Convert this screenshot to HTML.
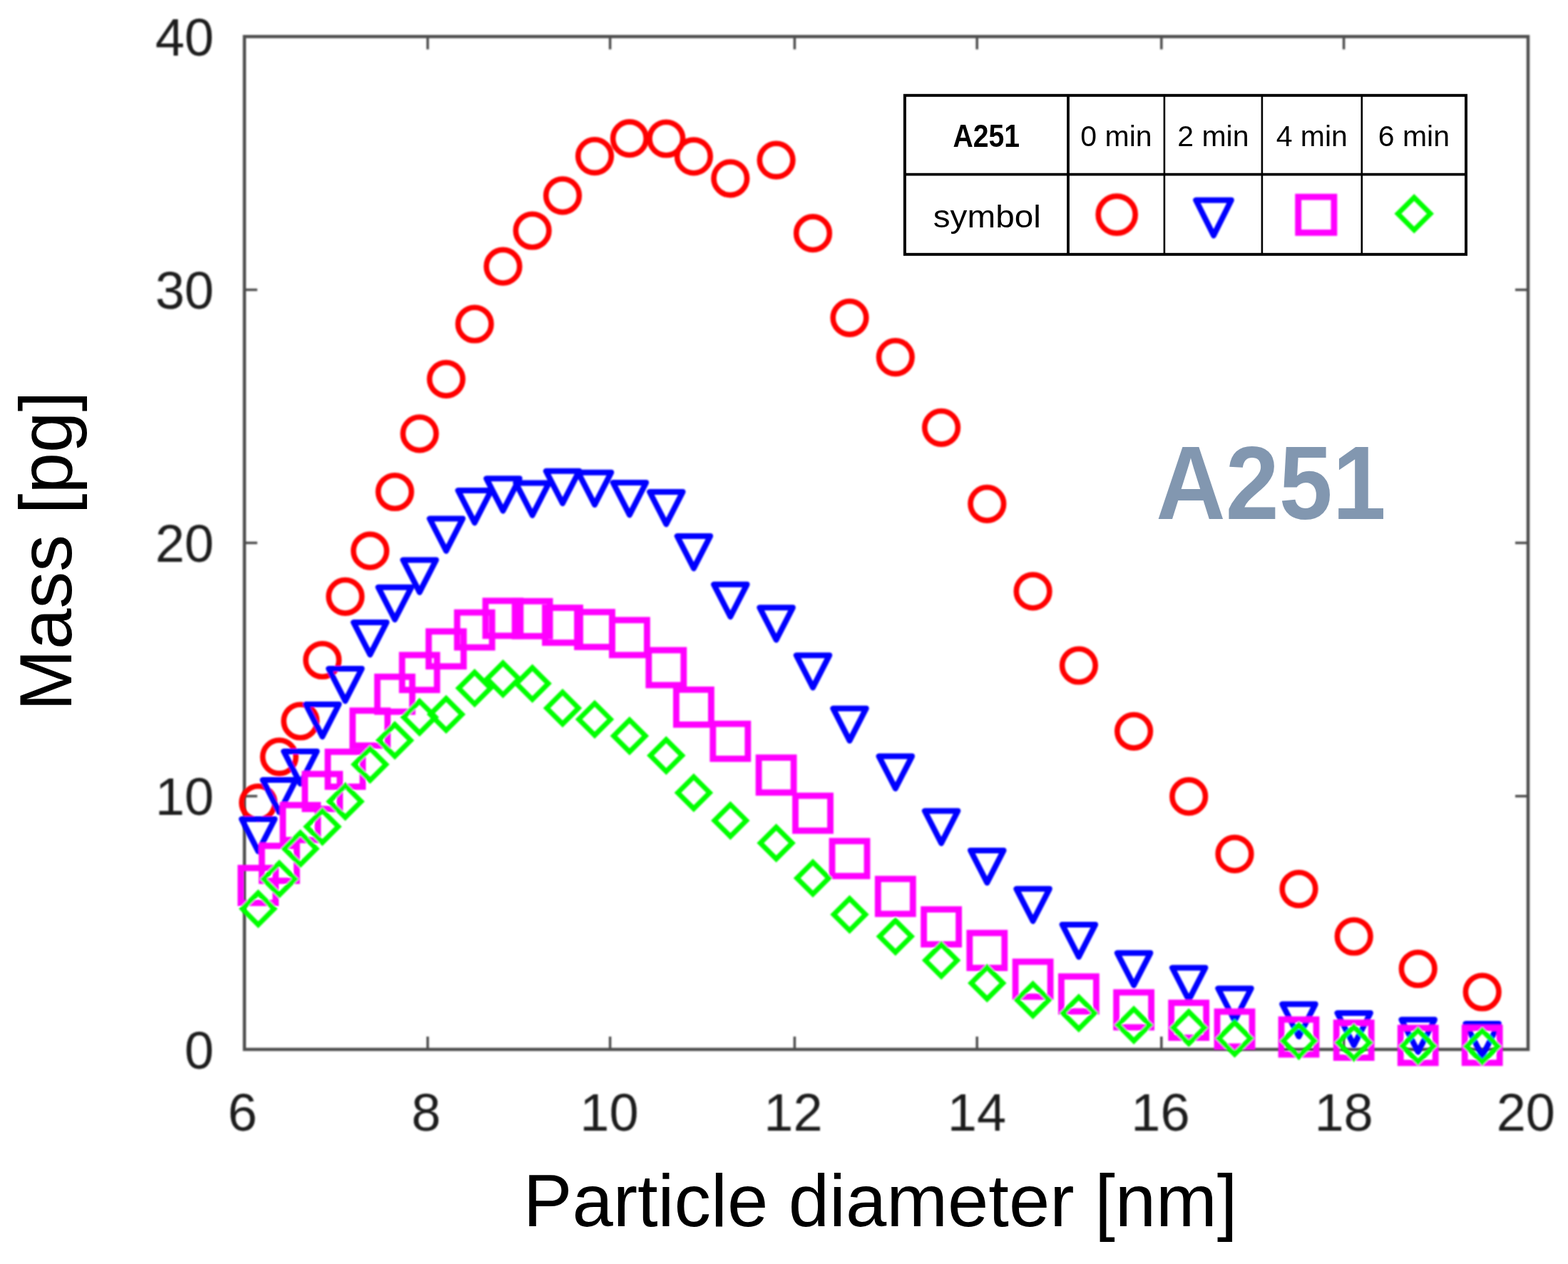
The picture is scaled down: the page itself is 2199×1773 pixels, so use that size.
<!DOCTYPE html>
<html><head><meta charset="utf-8"><title>Mass vs Particle diameter</title>
<style>
html,body{margin:0;padding:0;background:#fff;}
body{width:2199px;height:1773px;overflow:hidden;}
svg{display:block;}
.t{font-family:"Liberation Sans",Arial,Helvetica,sans-serif;}
</style></head><body>
<svg width="2199" height="1773" viewBox="0 0 2199 1773">
<rect width="2199" height="1773" fill="#fff"/>
<defs><filter id="soft" filterUnits="userSpaceOnUse" x="0" y="0" width="2199" height="1773"><feGaussianBlur stdDeviation="0.8"/></filter></defs>
<g filter="url(#soft)">
<g fill="none" stroke="#4d4d4d" stroke-width="4">
<rect x="342.8" y="51.3" width="1800.2" height="1420.7" stroke-width="4.5"/>
<path stroke-width="3.5" d="M599.8 1472V1454M599.8 51.3V69.3M855.6 1472V1454M855.6 51.3V69.3M1114.4 1472V1454M1114.4 51.3V69.3M1370.2 1472V1454M1370.2 51.3V69.3M1628.8 1472V1454M1628.8 51.3V69.3M1884.6 1472V1454M1884.6 51.3V69.3M342.8 1116.8H360.8M2143 1116.8H2125M342.8 761.6H360.8M2143 761.6H2125M342.8 406.5H360.8M2143 406.5H2125"/>
</g>
<g class="t" fill="#1c1c1c" font-size="74">
<text x="340.2" y="1586" text-anchor="middle">6</text>
<text x="597.7" y="1586" text-anchor="middle">8</text>
<text x="854.4" y="1586" text-anchor="middle">10</text>
<text x="1112.5" y="1586" text-anchor="middle">12</text>
<text x="1370" y="1586" text-anchor="middle">14</text>
<text x="1627.5" y="1586" text-anchor="middle">16</text>
<text x="1884.6" y="1586" text-anchor="middle">18</text>
<text x="2139.8" y="1586" text-anchor="middle">20</text>
<text x="300" y="1498.6" text-anchor="end">0</text>
<text x="300" y="1143.4" text-anchor="end">10</text>
<text x="300" y="788.2" text-anchor="end">20</text>
<text x="300" y="433.1" text-anchor="end">30</text>
<text x="300" y="77.9" text-anchor="end">40</text>
</g>
</g>
<text class="t" x="1234.6" y="1719.9" text-anchor="middle" font-size="103" fill="#000">Particle diameter [nm]</text>
<text class="t" transform="translate(100.1,772.9) rotate(-90)" x="0" y="0" text-anchor="middle" font-size="103.5" fill="#000">Mass [pg]</text>
<text class="t" transform="translate(1782.5,727.6) scale(0.92,1)" text-anchor="middle" font-size="146.6" font-weight="bold" fill="#8297b0">A251</text>
<g filter="url(#soft)">
<g fill="none" stroke="#ff0000" stroke-width="7.6">
<circle cx="362.1" cy="1126.1" r="23.3"/><circle cx="391.7" cy="1061.6" r="23.3"/><circle cx="421.2" cy="1011.5" r="23.3"/><circle cx="452.1" cy="926" r="23.3"/><circle cx="484.2" cy="836.8" r="23.3"/><circle cx="519" cy="772.7" r="23.3"/><circle cx="553.7" cy="690" r="23.3"/><circle cx="588.4" cy="608.3" r="23.3"/><circle cx="625.7" cy="531.8" r="23.3"/><circle cx="665.6" cy="454.5" r="23.3"/><circle cx="705.4" cy="373.7" r="23.3"/><circle cx="746.6" cy="323.5" r="23.3"/><circle cx="789" cy="274.3" r="23.3"/><circle cx="834" cy="219.1" r="23.3"/><circle cx="882.9" cy="194.2" r="23.3"/><circle cx="934.3" cy="194.5" r="23.3"/><circle cx="972.9" cy="219.4" r="23.3"/><circle cx="1024.3" cy="250.3" r="23.3"/><circle cx="1088.6" cy="224.6" r="23.3"/><circle cx="1140" cy="327.2" r="23.3"/><circle cx="1191.5" cy="445.8" r="23.3"/><circle cx="1255.8" cy="501.1" r="23.3"/><circle cx="1320.1" cy="599.8" r="23.3"/><circle cx="1384.3" cy="706.8" r="23.3"/><circle cx="1448.6" cy="829.4" r="23.3"/><circle cx="1512.9" cy="933.5" r="23.3"/><circle cx="1590.1" cy="1025.8" r="23.3"/><circle cx="1667.2" cy="1117.2" r="23.3"/><circle cx="1731.5" cy="1197.9" r="23.3"/><circle cx="1821.5" cy="1247" r="23.3"/><circle cx="1898.7" cy="1313.5" r="23.3"/><circle cx="1988.7" cy="1359" r="23.3"/><circle cx="2078.7" cy="1391.5" r="23.3"/>
</g>
<g fill="none" stroke="#0000ff" stroke-width="8.0" stroke-linejoin="round">
<path d="M338.9 1149H385.3L362.1 1194.2Z"/><path d="M368.5 1094.1H414.9L391.7 1139.3Z"/><path d="M398 1054H444.4L421.2 1099.2Z"/><path d="M428.9 988H475.3L452.1 1033.2Z"/><path d="M461 938H507.4L484.2 983.2Z"/><path d="M495.8 873H542.2L519 918.2Z"/><path d="M530.5 823.8H576.9L553.7 869Z"/><path d="M565.2 785.5H611.6L588.4 830.7Z"/><path d="M602.5 727.5H648.9L625.7 772.7Z"/><path d="M642.4 688H688.8L665.6 733.2Z"/><path d="M682.2 671.3H728.6L705.4 716.5Z"/><path d="M723.4 677.5H769.8L746.6 722.7Z"/><path d="M765.8 660.8H812.2L789 706Z"/><path d="M810.8 662.7H857.2L834 707.9Z"/><path d="M859.7 677H906.1L882.9 722.2Z"/><path d="M911.1 690H957.5L934.3 735.2Z"/><path d="M949.7 752H996.1L972.9 797.2Z"/><path d="M1001.1 819.8H1047.5L1024.3 865Z"/><path d="M1065.4 852.3H1111.8L1088.6 897.5Z"/><path d="M1116.8 919.2H1163.2L1140 964.4Z"/><path d="M1168.3 993.7H1214.7L1191.5 1038.9Z"/><path d="M1232.6 1060.8H1279L1255.8 1106Z"/><path d="M1296.9 1137.5H1343.3L1320.1 1182.7Z"/><path d="M1361.1 1192.9H1407.5L1384.3 1238.1Z"/><path d="M1425.4 1246.8H1471.8L1448.6 1292Z"/><path d="M1489.7 1296.9H1536.1L1512.9 1342.1Z"/><path d="M1566.9 1336.8H1613.3L1590.1 1382Z"/><path d="M1644 1357.5H1690.4L1667.2 1402.7Z"/><path d="M1708.3 1386.5H1754.7L1731.5 1431.7Z"/><path d="M1798.3 1408.6H1844.7L1821.5 1453.8Z"/><path d="M1875.5 1421H1921.9L1898.7 1466.2Z"/><path d="M1965.5 1430.3H2011.9L1988.7 1475.5Z"/><path d="M2055.5 1436.1H2101.9L2078.7 1481.3Z"/>
</g>
<g fill="none" stroke="#ff00ff" stroke-width="8.8">
<rect x="337.6" y="1217.5" width="49" height="49"/><rect x="367.2" y="1186.5" width="49" height="49"/><rect x="396.7" y="1129.3" width="49" height="49"/><rect x="427.6" y="1085.7" width="49" height="49"/><rect x="459.7" y="1054.5" width="49" height="49"/><rect x="494.5" y="996.8" width="49" height="49"/><rect x="529.2" y="949.3" width="49" height="49"/><rect x="563.9" y="918.8" width="49" height="49"/><rect x="601.2" y="885.7" width="49" height="49"/><rect x="641.1" y="859.1" width="49" height="49"/><rect x="680.9" y="842.8" width="49" height="49"/><rect x="722.1" y="843.3" width="49" height="49"/><rect x="764.5" y="852.5" width="49" height="49"/><rect x="809.5" y="858.5" width="49" height="49"/><rect x="858.4" y="869.8" width="49" height="49"/><rect x="909.8" y="912" width="49" height="49"/><rect x="948.4" y="967.4" width="49" height="49"/><rect x="999.8" y="1015.3" width="49" height="49"/><rect x="1064.1" y="1062.7" width="49" height="49"/><rect x="1115.5" y="1116.2" width="49" height="49"/><rect x="1167" y="1179.8" width="49" height="49"/><rect x="1231.3" y="1232.9" width="49" height="49"/><rect x="1295.6" y="1275.6" width="49" height="49"/><rect x="1359.8" y="1308.7" width="49" height="49"/><rect x="1424.1" y="1349" width="49" height="49"/><rect x="1488.4" y="1369.7" width="49" height="49"/><rect x="1565.6" y="1392" width="49" height="49"/><rect x="1642.7" y="1406.6" width="49" height="49"/><rect x="1707" y="1419" width="49" height="49"/><rect x="1797" y="1430.1" width="49" height="49"/><rect x="1874.2" y="1434.6" width="49" height="49"/><rect x="1964.2" y="1441.9" width="49" height="49"/><rect x="2054.2" y="1441.8" width="49" height="49"/>
</g>
<g fill="none" stroke="#00ff00" stroke-width="7.0">
<path d="M362.1 1252.5L384.4 1274.8L362.1 1297.1L339.8 1274.8Z"/><path d="M391.7 1210.6L414 1232.9L391.7 1255.2L369.4 1232.9Z"/><path d="M421.2 1168.2L443.5 1190.5L421.2 1212.8L398.9 1190.5Z"/><path d="M452.1 1137.1L474.4 1159.4L452.1 1181.7L429.8 1159.4Z"/><path d="M484.2 1101.9L506.5 1124.2L484.2 1146.5L461.9 1124.2Z"/><path d="M519 1049.9L541.3 1072.2L519 1094.5L496.7 1072.2Z"/><path d="M553.7 1016.2L576 1038.5L553.7 1060.8L531.4 1038.5Z"/><path d="M588.4 983.6L610.7 1005.9L588.4 1028.2L566.1 1005.9Z"/><path d="M625.7 979.8L648 1002.1L625.7 1024.4L603.4 1002.1Z"/><path d="M665.6 943L687.9 965.3L665.6 987.6L643.3 965.3Z"/><path d="M705.4 930L727.7 952.3L705.4 974.6L683.1 952.3Z"/><path d="M746.6 936.5L768.9 958.8L746.6 981.1L724.3 958.8Z"/><path d="M789 970.9L811.3 993.2L789 1015.5L766.7 993.2Z"/><path d="M834 986.6L856.3 1008.9L834 1031.2L811.7 1008.9Z"/><path d="M882.9 1009.9L905.2 1032.2L882.9 1054.5L860.6 1032.2Z"/><path d="M934.3 1037.5L956.6 1059.8L934.3 1082.1L912 1059.8Z"/><path d="M972.9 1089.6L995.2 1111.9L972.9 1134.2L950.6 1111.9Z"/><path d="M1024.3 1128.6L1046.6 1150.9L1024.3 1173.2L1002 1150.9Z"/><path d="M1088.6 1160.2L1110.9 1182.5L1088.6 1204.8L1066.3 1182.5Z"/><path d="M1140 1209.4L1162.3 1231.7L1140 1254L1117.7 1231.7Z"/><path d="M1191.5 1260.5L1213.8 1282.8L1191.5 1305.1L1169.2 1282.8Z"/><path d="M1255.8 1291.2L1278.1 1313.5L1255.8 1335.8L1233.5 1313.5Z"/><path d="M1320.1 1324.8L1342.4 1347.1L1320.1 1369.4L1297.8 1347.1Z"/><path d="M1384.3 1356.7L1406.6 1379L1384.3 1401.3L1362 1379Z"/><path d="M1448.6 1380.1L1470.9 1402.4L1448.6 1424.7L1426.3 1402.4Z"/><path d="M1512.9 1398.6L1535.2 1420.9L1512.9 1443.2L1490.6 1420.9Z"/><path d="M1590.1 1415.4L1612.4 1437.7L1590.1 1460L1567.8 1437.7Z"/><path d="M1667.2 1419.2L1689.5 1441.5L1667.2 1463.8L1644.9 1441.5Z"/><path d="M1731.5 1434.2L1753.8 1456.5L1731.5 1478.8L1709.2 1456.5Z"/><path d="M1821.5 1437.7L1843.8 1460L1821.5 1482.3L1799.2 1460Z"/><path d="M1898.7 1440.2L1921 1462.5L1898.7 1484.8L1876.4 1462.5Z"/><path d="M1988.7 1444.9L2011 1467.2L1988.7 1489.5L1966.4 1467.2Z"/><path d="M2078.7 1445.4L2101 1467.7L2078.7 1490L2056.4 1467.7Z"/>
</g>
</g>
<g fill="#fff" stroke="#000">
<rect x="1268.9" y="133.8" width="787.1" height="223" stroke-width="4"/>
</g>
<g stroke="#000" fill="none">
<path stroke-width="3.8" d="M1268.9 244.7H2056 M1498 133.8V356.8"/>
<path stroke-width="2.6" d="M1632.9 133.8V356.8M1769.9 133.8V356.8M1909.8 133.8V356.8"/>
</g>
<g class="t" fill="#000" font-size="41" text-anchor="middle">
<text transform="translate(1383.2,205.5) scale(0.89,1)" font-size="44" font-weight="bold">A251</text>
<text x="1565.5" y="205">0 min</text>
<text x="1701.4" y="205">2 min</text>
<text x="1839.8" y="205">4 min</text>
<text x="1982.9" y="205">6 min</text>
<text transform="translate(1384.3,318.8) scale(1.06,1)" font-size="45">symbol</text>
</g>
<g filter="url(#soft)">
<circle cx="1566.2" cy="301.1" r="26" fill="none" stroke="#ff0000" stroke-width="7.6"/>
<path d="M1677.2 280.8H1726.8L1702 330.3Z" fill="none" stroke="#0000ff" stroke-width="8" stroke-linejoin="round"/>
<rect x="1820.7" y="276.2" width="50.2" height="50.2" fill="none" stroke="#ff00ff" stroke-width="8.8"/>
<path d="M1983.2 277L2006 299.8L1983.2 322.6L1960.4 299.8Z" fill="none" stroke="#00ff00" stroke-width="7"/>
</g>
</svg>
</body></html>
